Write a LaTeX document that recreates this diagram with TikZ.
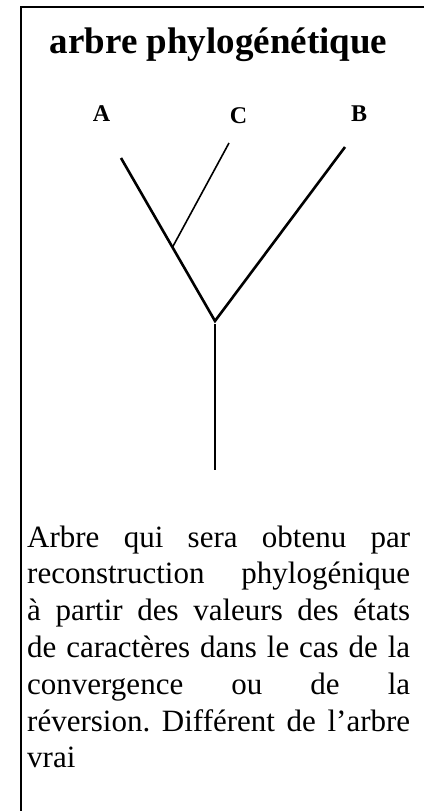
\documentclass[tikz,border=0pt]{standalone}
\usepackage{fontspec}
\setmainfont{Liberation Serif}
\begin{document}
\frenchspacing
\begin{tikzpicture}[x=1pt,y=1pt,
  frame/.style={line width=1.6pt},
  branch/.style={line width=2.6pt},
  thin branch/.style={line width=1.6pt},
  title/.style={anchor=base,inner sep=0pt,font=\fontsize{37}{42}\selectfont\bfseries},
  taxon/.style={anchor=base,inner sep=0pt,font=\fontsize{24}{28}\selectfont\bfseries},
  bodyline/.style={anchor=base west,inner sep=0pt,font=\fontsize{31}{36.8}\selectfont}]
\useasboundingbox (0,0) rectangle (424,-811);
% frame (only top and left edges visible)
\coordinate (fTL) at (21,-7);
\coordinate (fTR) at (424,-7);
\coordinate (fBL) at (21,-811);
\draw[frame] (fTR) -- (fTL) -- (fBL);
% title
\node[title] (ttl) at (218.5,-53.3) {arbre phylogénétique};
% taxa labels
\node[taxon] (lA) at (101.5,-121) {A};
\node[taxon] (lC) at (238.5,-123) {C};
\node[taxon] (lB) at (359,-121) {B};
% tree
\coordinate (tA) at (121,-158);
\coordinate (tC) at (229,-143);
\coordinate (tB) at (345,-147);
\coordinate (jC) at (172.6,-247);
\coordinate (root) at (215,-321);
\coordinate (stem) at (215,-324);
\coordinate (base) at (215,-470);
\draw[branch,line join=miter] (tA) -- (root) -- (tB);
\draw[thin branch] (jC) -- (tC);
\draw[branch] (stem) -- (base);
% body text
\node[bodyline] (l1) at (27,-547) {\makebox[383pt][s]{Arbre qui sera obtenu par}};
\node[bodyline] (l2) at (27,-583.8) {\makebox[383pt][s]{reconstruction phylogénique}};
\node[bodyline] (l3) at (27,-620.6) {\makebox[383pt][s]{à partir des valeurs des états}};
\node[bodyline] (l4) at (27,-657.4) {\makebox[383pt][s]{de caractères dans le cas de la}};
\node[bodyline] (l5) at (27,-694.2) {\makebox[383pt][s]{convergence ou de la}};
\node[bodyline] (l6) at (27,-731) {\makebox[383pt][s]{réversion. Différent de l’arbre}};
\node[bodyline] (l7) at (27,-767.8) {vrai};
\end{tikzpicture}
\end{document}
